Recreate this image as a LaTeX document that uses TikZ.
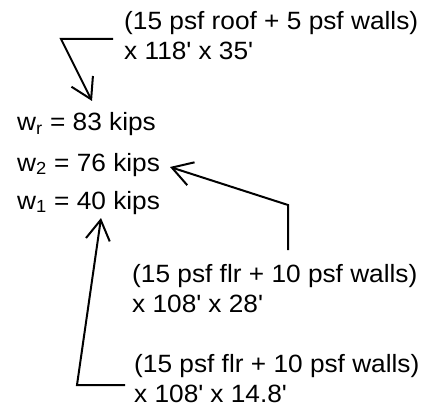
\documentclass[tikz,border=0pt]{standalone}
\usepackage{fontspec}
\setmainfont{Liberation Sans}[FakeStretch=1.05]
\usetikzlibrary{arrows.meta}
\begin{document}
\begin{tikzpicture}[x=1pt,y=-1pt,
  lbl/.style={font=\fontsize{25}{30}\selectfont, inner sep=0pt, anchor=base west, align=left},
  conn/.style={line width=2pt, -{Straight Barb[length=20pt,width=24pt]}}]
\useasboundingbox (0,0) rectangle (438,406);
\node[lbl] (roof) at (124,60) {(15 psf roof + 5 psf walls)\\x 118\textquotesingle{} x 35\textquotesingle};
\node[lbl] (wr) at (17,131) {w\textsubscript{r} = 83 kips};
\node[lbl] (w2) at (17,171) {w\textsubscript{2} = 76 kips};
\node[lbl] (w1) at (17,209) {w\textsubscript{1} = 40 kips};
\node[lbl] (flr2) at (132,312) {(15 psf flr + 10 psf walls)\\x 108\textquotesingle{} x 28\textquotesingle};
\node[lbl] (flr1) at (134,402) {(15 psf flr + 10 psf walls)\\x 108\textquotesingle{} x 14.8\textquotesingle};
\coordinate (a1s) at (113,39);
\coordinate (a1b) at (61,39);
\coordinate (a1e) at (92,101);
\coordinate (a2s) at (288,250);
\coordinate (a2b) at (288,205);
\coordinate (a2e) at (170,167);
\coordinate (a3s) at (125,385);
\coordinate (a3b) at (77,385);
\coordinate (a3e) at (101,218);
\draw[conn] (a1s) -- (a1b) -- (a1e);
\draw[conn] (a2s) -- (a2b) -- (a2e);
\draw[conn] (a3s) -- (a3b) -- (a3e);
\end{tikzpicture}
\end{document}
